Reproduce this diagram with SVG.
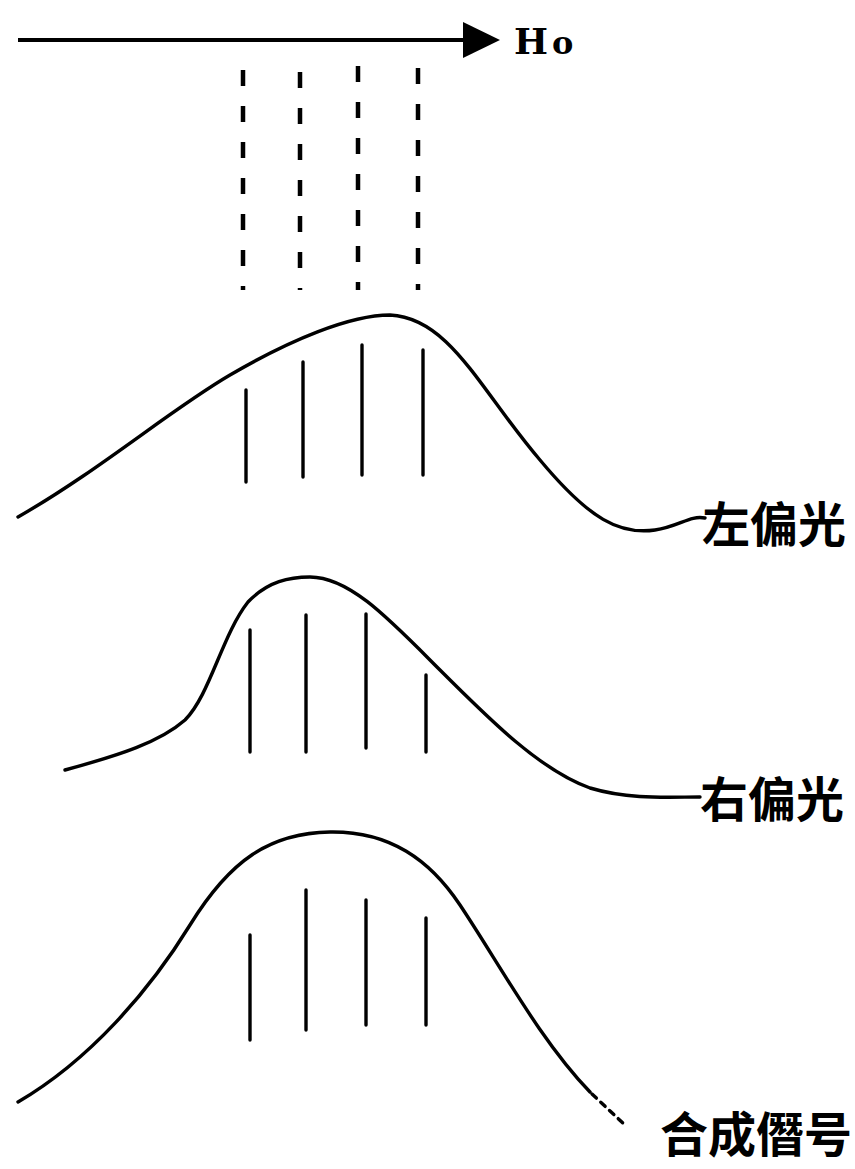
<svg xmlns="http://www.w3.org/2000/svg" width="855" height="1169" viewBox="0 0 855 1169">
<style>
.curve{fill:none;stroke:#000;stroke-width:3.4;stroke-linecap:round}
.bar{stroke:#000;stroke-width:3.4;stroke-linecap:round}
.dash{stroke:#000;stroke-width:4.5;stroke-dasharray:16 20}
.lbl{font-family:"Noto Sans CJK SC","Liberation Sans",sans-serif;font-weight:bold;font-size:48px;fill:#000}
</style>
<rect width="855" height="1169" fill="#fff"/>
<g id="field">
<line x1="18" y1="40" x2="466" y2="40" stroke="#000" stroke-width="4"/>
<path d="M463,22 L500,40 L463,58 Z" fill="#000"/>
<text x="514" y="54" font-family="'DejaVu Serif', serif" font-weight="bold" font-size="36" fill="#000">H<tspan dx="4" font-size="32">o</tspan></text>
</g>
<g id="dashed-lines">
<line class="dash" x1="243" y1="70" x2="243" y2="290"/>
<line class="dash" x1="300" y1="72" x2="300" y2="290"/>
<line class="dash" x1="358" y1="66" x2="358" y2="290"/>
<line class="dash" x1="418" y1="68" x2="418" y2="290"/>
</g>
<g id="left-polarized">
<path class="curve" d="M18,517 C100,470 170,410 230,375 C290,340 350,315 390,315 C450,318 480,390 540,460 C590,520 620,535 655,530 C680,526 690,515 705,518"/>
<line class="bar" x1="246" y1="390" x2="246" y2="482"/>
<line class="bar" x1="303" y1="362" x2="303" y2="477"/>
<line class="bar" x1="362" y1="345" x2="362" y2="475"/>
<line class="bar" x1="423" y1="350" x2="423" y2="475"/>
<text class="lbl" x="702" y="542">左偏光</text>
</g>
<g id="right-polarized">
<path class="curve" d="M65,770 C120,755 160,742 185,720 C210,695 222,635 248,602 C268,581 290,577 310,577 C350,577 390,620 440,670 C490,720 540,770 590,788 C630,800 670,797 700,797"/>
<line class="bar" x1="250" y1="630" x2="250" y2="752"/>
<line class="bar" x1="306" y1="615" x2="306" y2="752"/>
<line class="bar" x1="366" y1="614" x2="366" y2="748"/>
<line class="bar" x1="426" y1="675" x2="426" y2="752"/>
<text class="lbl" x="700" y="817">右偏光</text>
</g>
<g id="combined">
<path class="curve" d="M18,1102 C90,1060 150,990 190,925 C230,860 270,833 330,832 C390,831 430,860 460,905 C500,965 540,1040 590,1092"/>
<path class="curve" d="M592,1094 L625,1125" stroke-dasharray="6 6"/>
<line class="bar" x1="250" y1="935" x2="250" y2="1040"/>
<line class="bar" x1="306" y1="890" x2="306" y2="1030"/>
<line class="bar" x1="366" y1="900" x2="366" y2="1025"/>
<line class="bar" x1="426" y1="918" x2="426" y2="1025"/>
<text class="lbl" x="660" y="1152" font-size="46">合成僭号</text>
</g>
</svg>
